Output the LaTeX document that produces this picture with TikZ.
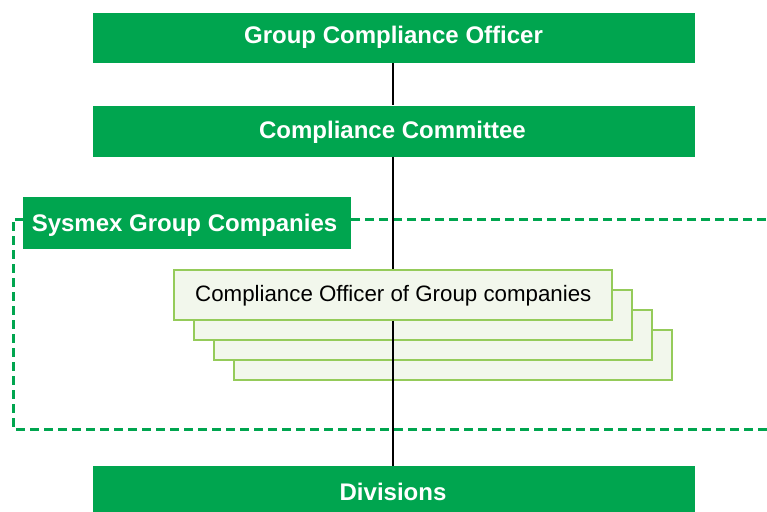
\documentclass[tikz,border=0pt]{standalone}
\usepackage{fontspec}
\setmainfont{Liberation Sans}
\definecolor{sgreen}{HTML}{00A54F}
\definecolor{lgreen}{HTML}{95CB5A}
\definecolor{lfill}{HTML}{F2F7EC}
\begin{document}
\begin{tikzpicture}[x=1pt,y=-1pt,
  greenbox/.style={fill=sgreen,draw=none,inner sep=0pt},
  greentext/.style={font=\fontsize{24}{28}\selectfont\bfseries,text=white,anchor=base,inner sep=0pt},
  cobox/.style={fill=lfill,draw=lgreen,line width=1.6pt,minimum width=438pt,minimum height=50pt,inner sep=0pt},
  link/.style={draw=black,line width=1.4pt},
  grpframe/.style={draw=sgreen,line width=3pt,dash pattern=on 9pt off 5pt}]
\useasboundingbox (0,0) rectangle (767,511);
\begin{scope}
\clip (0,0) rectangle (767,511);
% group frame
\draw[grpframe] (780,219) -- (13,219) -- (13,429) -- (780,429);
% stacked boxes
\node[cobox] (c4) at (453,355) {};
\node[cobox] (c3) at (433,335) {};
\node[cobox] (c2) at (413,315) {};
\node[cobox] (c1) at (393,295) {};
\node[font=\fontsize{22.3}{26}\selectfont,anchor=base west,inner sep=0pt] (c1t) at (195,301.5) {Compliance Officer of Group companies};
% green boxes
\node[greenbox,minimum width=602pt,minimum height=50pt] (gco) at (394,38) {};
\node[greentext] (gcot) at (393.5,44) {Group Compliance Officer};
\node[greenbox,minimum width=602pt,minimum height=51pt] (cc) at (394,131) {};
\node[greentext] (cct) at (392.5,138) {Compliance Committee};
\node[greenbox,minimum width=328pt,minimum height=52pt] (sg) at (187,223) {};
\node[greentext] (sgt) at (184.5,231) {Sysmex Group Companies};
\node[greenbox,minimum width=602pt,minimum height=50pt] (dv) at (394,491) {};
\node[greentext] (dvt) at (393,500) {Divisions};
% connectors
\coordinate (x1) at (393,0);
\draw[link] (gco.south -| x1) -- (cc.north -| x1);
\draw[link] (cc.south -| x1) -- (c1.north -| x1);
\draw[link] (c1.south -| x1) -- (dv.north -| x1);
\end{scope}
\end{tikzpicture}
\end{document}
